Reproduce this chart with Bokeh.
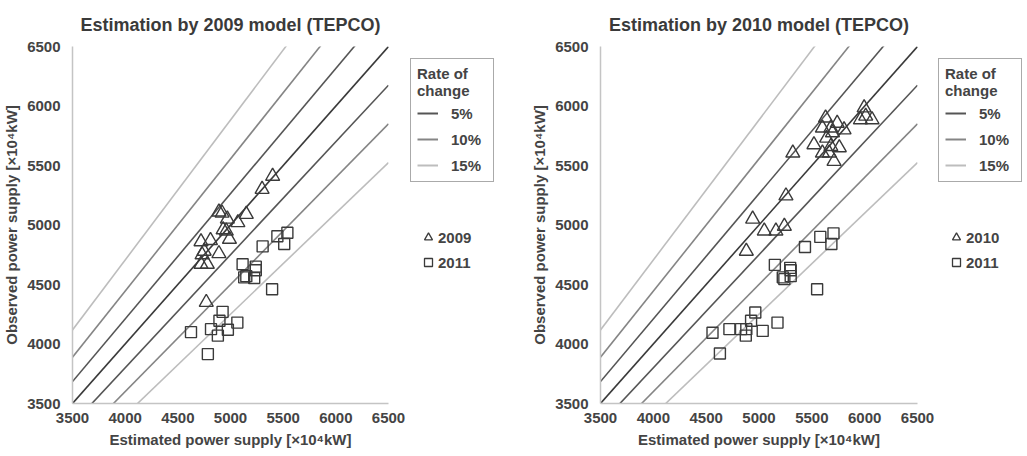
from bokeh.plotting import figure
from bokeh.layouts import row
from bokeh.models import Legend, LegendItem
from bokeh.embed import file_html
from bokeh.resources import INLINE

# ---- data ----
rates = [0.05, 0.10, 0.15]
rate_labels = ["5%", "10%", "15%"]
rate_colors = ["#555555", "#858585", "#bdbdbd"]
axis_min, axis_max = 3500, 6500
ticks = [3500, 4000, 4500, 5000, 5500, 6000, 6500]

# Left panel (2009 model)
est09_2009 = [5400, 5300, 5150, 5070, 4890, 4920, 4970, 4960, 4990, 4720, 4810, 4750,
              4890, 4730, 4720, 4780, 4770, 4930]
obs09_2009 = [5410, 5300, 5090, 5020, 5110, 5100, 5050, 4950, 4880, 4860, 4870, 4780,
              4760, 4750, 4670, 4670, 4350, 4960]
est09_2011 = [5540, 5445, 5510, 5305, 5115, 5240, 5130, 5150, 5225, 5395, 4925, 5065,
              4895, 4625, 4815, 4880, 4975, 4785, 5240]
obs09_2011 = [4935, 4905, 4840, 4820, 4670, 4650, 4560, 4570, 4555, 4460, 4270, 4180,
              4195, 4100, 4125, 4070, 4120, 3915, 4620]

# Right panel (2010 model)
est10_2010 = [5995, 6010, 5960, 6070, 5630, 5740, 5805, 5600, 5680, 5695, 5520, 5680,
              5760, 5600, 5665, 5710, 5320, 5255, 4940, 5050, 5160, 5240, 4880, 5640]
obs10_2010 = [5985, 5915, 5885, 5885, 5900, 5855, 5800, 5815, 5815, 5775, 5675, 5660,
              5650, 5605, 5605, 5535, 5605, 5245, 5050, 4950, 4950, 4990, 4780, 5730]
est10_2011 = [5705, 5580, 5685, 5435, 5150, 5295, 5300, 5225, 5300, 5240, 5550, 4965,
              4925, 5175, 4560, 4720, 4830, 4880, 5035, 4875, 4630]
obs10_2011 = [4930, 4900, 4840, 4815, 4665, 4640, 4620, 4560, 4570, 4545, 4460, 4265,
              4195, 4180, 4095, 4125, 4125, 4125, 4110, 4070, 3920]

FONT = "Liberation Sans"
TXT = "#444444"
MARK = "#3a3a3a"
NAN = float("nan")


def make_panel(title, frame_w, est_a, obs_a, est_b, obs_b):
    p = figure(width=71 + frame_w + 18, height=456, output_backend="svg",
               toolbar_location=None,
               x_range=(axis_min, axis_max), y_range=(axis_min, axis_max),
               min_border_left=71, min_border_right=18,
               min_border_top=45, min_border_bottom=53,
               title=title)
    p.title.text_font = FONT
    p.title.text_font_size = "18px"
    p.title.text_font_style = "bold"
    p.title.text_color = "#3a3a3a"
    p.title.align = "center"
    p.title.standoff = 24
    p.outline_line_color = None
    p.xgrid.visible = False
    p.ygrid.visible = False
    for ax in (p.xaxis[0], p.yaxis[0]):
        ax.ticker = ticks
        ax.major_tick_in = 0
        ax.major_tick_out = 0
        ax.minor_tick_in = 0
        ax.minor_tick_out = 0
        ax.axis_line_color = "#c4c4c4"
        ax.axis_line_width = 1.5
        ax.major_label_text_font = FONT
        ax.major_label_text_font_size = "15px"
        ax.major_label_text_font_style = "bold"
        ax.major_label_text_color = TXT
        ax.axis_label_text_font = FONT
        ax.axis_label_text_font_size = "15px"
        ax.axis_label_text_font_style = "bold"
        ax.axis_label_text_color = TXT
    p.xaxis.axis_label = "Estimated power supply [×10⁴kW]"
    p.yaxis.axis_label = "Observed power supply [×10⁴kW]"
    p.xaxis.major_label_standoff = 9
    p.xaxis.axis_label_standoff = 5
    p.yaxis.major_label_standoff = 12
    p.yaxis.axis_label_standoff = 4

    xs = [axis_min, axis_max]
    p.line(xs, xs, line_color="#3a3a3a", line_width=1.6)
    for r, col in zip(rates, rate_colors):
        p.line(xs, [v / (1 - r) for v in xs], line_color=col, line_width=1.6)
        p.line(xs, [v * (1 - r) for v in xs], line_color=col, line_width=1.6)

    p.scatter(est_a, obs_a, marker="triangle", size=14, fill_color=None,
              line_color=MARK, line_width=1.4)
    p.scatter(est_b, obs_b, marker="square", size=11, fill_color=None,
              line_color=MARK, line_width=1.4)
    return p


def make_legend_fig(width, x1, x2, lab_a, lab_b):
    lf = figure(width=width, height=456, output_backend="svg", toolbar_location=None,
                x_axis_type=None, y_axis_type=None, x_range=(0, 1), y_range=(0, 1),
                min_border_left=0, min_border_top=45, min_border_right=0,
                min_border_bottom=53)
    lf.outline_line_color = None
    lf.xgrid.visible = False
    lf.ygrid.visible = False
    rate_items = []
    for lab, col in zip(rate_labels, rate_colors):
        # legend proxy (nothing visible is drawn in the plot area)
        r = lf.line([NAN], [NAN], line_color=col, line_width=2)
        rate_items.append(LegendItem(label=lab, renderers=[r]))
    ra = lf.scatter([NAN], [NAN], marker="triangle", fill_color=None, line_color=MARK,
                    line_width=1.3)
    rb = lf.scatter([NAN], [NAN], marker="square", fill_color=None, line_color=MARK,
                    line_width=1.3)
    leg1 = Legend(items=rate_items, location=(x1, 221), title="Rate of\nchange",
                  title_text_font=FONT, title_text_font_size="15px",
                  title_text_font_style="bold", title_text_color=TXT,
                  label_text_font=FONT, label_text_font_size="15px",
                  label_text_font_style="bold", label_text_color=TXT,
                  border_line_color="#555555", border_line_width=1.5,
                  glyph_width=21, glyph_height=20, label_height=20,
                  label_width=36,
                  label_standoff=13, spacing=6, padding=6, margin=0,
                  title_standoff=4, background_fill_alpha=0)
    leg2 = Legend(items=[LegendItem(label=lab_a, renderers=[ra]),
                         LegendItem(label=lab_b, renderers=[rb])],
                  location=(x2, 131),
                  label_text_font=FONT, label_text_font_size="15px",
                  label_text_font_style="bold", label_text_color=TXT,
                  border_line_color=None, background_fill_alpha=0,
                  glyph_width=20, glyph_height=20, label_height=20,
                  label_standoff=0, spacing=5, padding=0, margin=0)
    lf.add_layout(leg1, "center")
    lf.add_layout(leg2, "center")
    return lf


p1 = make_panel("Estimation by 2009 model (TEPCO)", 317,
                est09_2009, obs09_2009, est09_2011, obs09_2011)
l1 = make_legend_fig(528 - 406, 4, 12, "2009", "2011")
p2 = make_panel("Estimation by 2010 model (TEPCO)", 318,
                est10_2010, obs10_2010, est10_2011, obs10_2011)
l2 = make_legend_fig(1027 - 528 - 407, 3, 11, "2010", "2011")

layout = row(p1, l1, p2, l2, spacing=0)
open("out.html", "w").write(file_html(layout, INLINE))
